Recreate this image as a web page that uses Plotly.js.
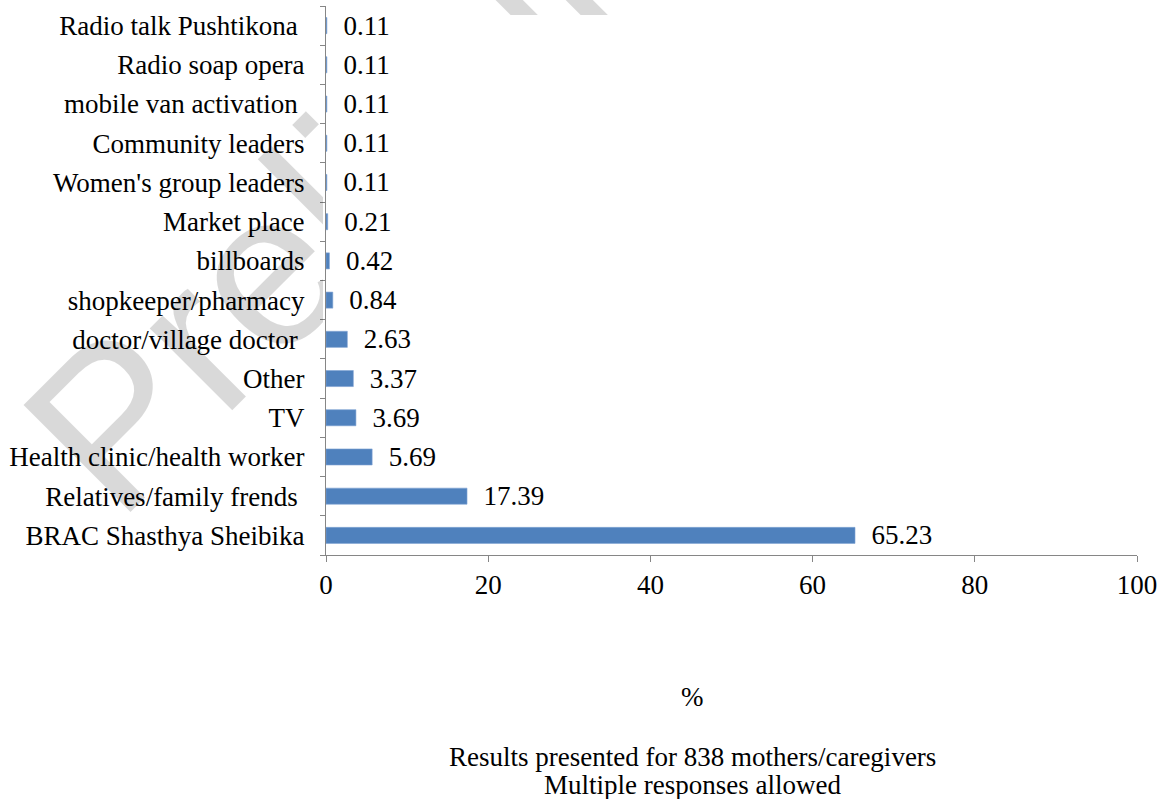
<!DOCTYPE html>
<html>
<head>
<meta charset="utf-8">
<script src="https://cdn.plot.ly/plotly-3.0.1.min.js"></script>
<style>
  html, body { margin: 0; padding: 0; background: #ffffff; }
  #chart { width: 1160px; height: 799px; }
</style>
</head>
<body>
<div id="chart"></div>
<script>
// Categories listed bottom to top (Plotly puts the first category at the bottom)
const categories = [
  "BRAC Shasthya Sheibika",
  "Relatives/family frends\u00a0",
  "Health clinic/health worker",
  "TV",
  "Other",
  "doctor/village doctor\u00a0",
  "shopkeeper/pharmacy",
  "billboards",
  "Market place",
  "Women's group leaders",
  "Community leaders",
  "mobile van activation\u00a0",
  "Radio soap opera",
  "Radio talk Pushtikona\u00a0"
];
const percentValues = [65.23, 17.39, 5.69, 3.69, 3.37, 2.63, 0.84, 0.42, 0.21, 0.11, 0.11, 0.11, 0.11, 0.11];
const xTickValues = [0, 20, 40, 60, 80, 100];
const xTickLabels = ["0", "20", "40", "60", "80", "100"];
const axisTitle = "%";
const noteLines = ["Results presented for 838 mothers/caregivers", "Multiple responses allowed"];
const watermarkText = "Preliminary";

const serif = "'Liberation Serif', 'Times New Roman', serif";

const W = 1160, H = 799;
const M = { l: 326, r: 23, t: 6, b: 244 };
const plotW = W - M.l - M.r, plotH = H - M.t - M.b;
const px2x = px => (px - M.l) / plotW;
const py2y = py => (H - M.b - py) / plotH;

const trace = {
  type: "bar",
  orientation: "h",
  y: categories,
  x: percentValues,
  marker: { color: "#4F81BD", line: { color: "#7FA3D3", width: 0.6 } },
  text: percentValues.map(v => v.toFixed(2)),
  texttemplate: "\u00a0\u00a0%{text}",
  textposition: "outside",
  constraintext: "none",
  cliponaxis: false,
  textfont: { family: serif, size: 27, color: "#000000" },
  hoverinfo: "x+y"
};

const layout = {
  width: W,
  height: H,
  margin: { l: M.l, r: M.r, t: M.t, b: M.b, pad: 0 },
  paper_bgcolor: "#ffffff",
  plot_bgcolor: "#ffffff",
  showlegend: false,
  bargap: 0.59,
  font: { family: serif, size: 27, color: "#000000" },
  xaxis: {
    range: [0, 100],
    tickvals: xTickValues,
    ticktext: xTickLabels,
    ticks: "outside",
    ticklen: 6,
    tickwidth: 1,
    tickcolor: "#868686",
    showline: true,
    linecolor: "#868686",
    linewidth: 1,
    showgrid: false,
    zeroline: false,
    tickfont: { family: serif, size: 27, color: "#000000" },
    fixedrange: true
  },
  yaxis: {
    type: "category",
    tickson: "boundaries",
    ticks: "outside",
    ticklen: 5,
    tickwidth: 1,
    tickcolor: "#868686",
    showline: true,
    linecolor: "#868686",
    linewidth: 1,
    showgrid: false,
    zeroline: false,
    ticklabelstandoff: 15,
    tickfont: { family: serif, size: 27, color: "#000000" },
    fixedrange: true
  },
  annotations: [
    {
      text: watermarkText,
      xref: "paper", yref: "paper",
      x: px2x(453), y: py2y(82),
      xanchor: "center", yanchor: "middle",
      textangle: -45,
      showarrow: false,
      font: { family: "'Liberation Sans', Arial, sans-serif", size: 220, color: "rgba(0,0,0,0.15)" }
    },
    {
      text: axisTitle,
      xref: "paper", yref: "paper",
      x: px2x(692), y: py2y(697),
      xanchor: "center", yanchor: "middle",
      showarrow: false,
      font: { family: serif, size: 27, color: "#000000" }
    },
    {
      text: noteLines[0],
      xref: "paper", yref: "paper",
      x: px2x(692), y: py2y(757),
      xanchor: "center", yanchor: "middle",
      showarrow: false,
      font: { family: serif, size: 27, color: "#000000" }
    },
    {
      text: noteLines[1],
      xref: "paper", yref: "paper",
      x: px2x(692), y: py2y(785),
      xanchor: "center", yanchor: "middle",
      showarrow: false,
      font: { family: serif, size: 27, color: "#000000" }
    }
  ]
};

Plotly.newPlot("chart", [trace], layout, { displayModeBar: false, staticPlot: true }).then(function (gd) {
  // The page watermark sits behind the chart: the white plot area hides it.
  const wm = gd.querySelector(".annotation[data-index='0']");
  if (!wm) return;
  const svgNS = "http://www.w3.org/2000/svg";
  const svg = wm.ownerSVGElement;
  let defs = svg.querySelector("defs");
  if (!defs) { defs = document.createElementNS(svgNS, "defs"); svg.insertBefore(defs, svg.firstChild); }
  const cp = document.createElementNS(svgNS, "clipPath");
  cp.setAttribute("id", "wm-clip");
  cp.setAttribute("clipPathUnits", "userSpaceOnUse");
  const p = document.createElementNS(svgNS, "path");
  const x0 = M.l - 3, y0 = 15;
  p.setAttribute("d", "M0,0H" + W + "V" + H + "H0Z M" + x0 + "," + y0 + "H" + W + "V" + H + "H" + x0 + "Z");
  p.setAttribute("clip-rule", "evenodd");
  cp.appendChild(p);
  defs.appendChild(cp);
  wm.setAttribute("clip-path", "url(#wm-clip)");
});
</script>
</body>
</html>
